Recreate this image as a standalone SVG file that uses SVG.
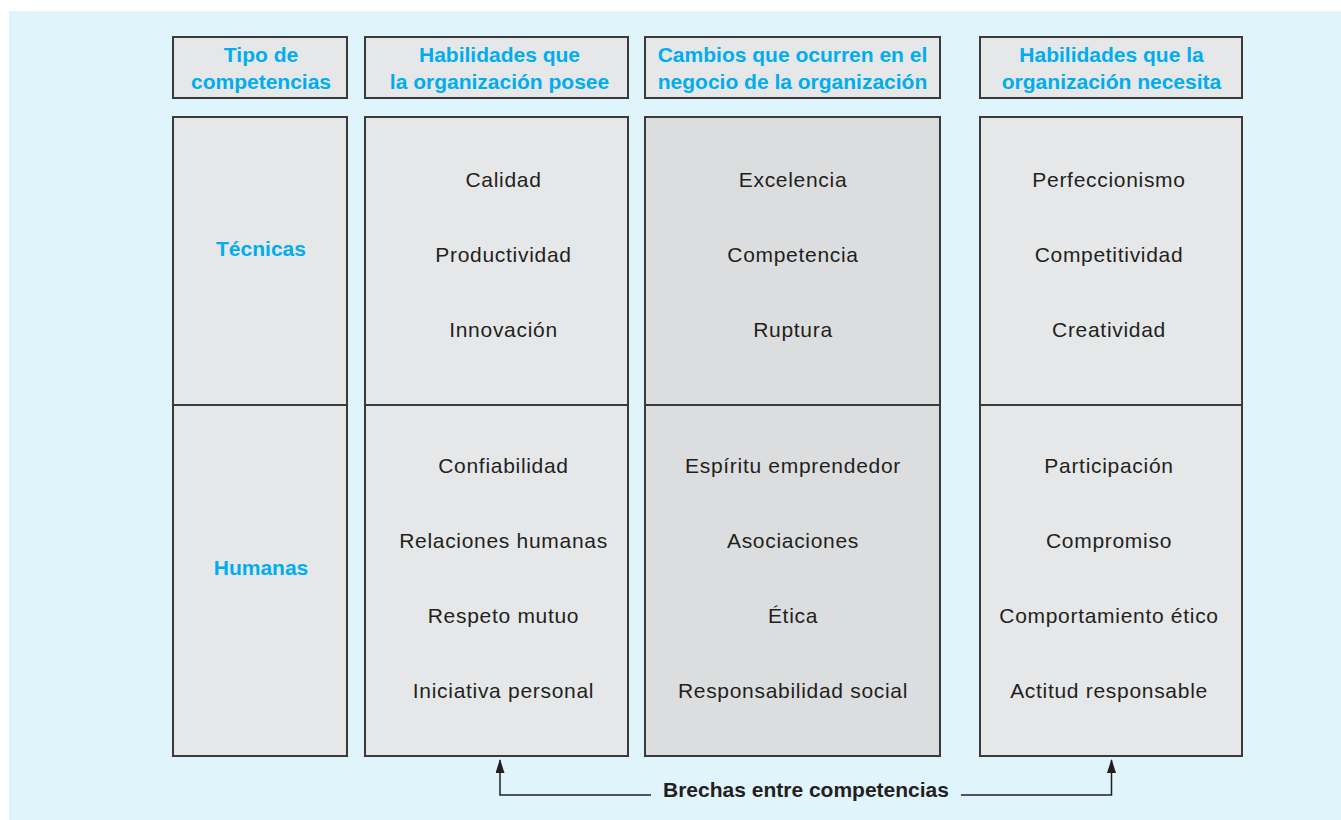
<svg xmlns="http://www.w3.org/2000/svg" width="1341" height="820" viewBox="0 0 1341 820">
<defs>
<style>
.box{fill:#E6E7E8;stroke:#3a3a3a;stroke-width:2}
.dark{fill:#DCDDDF}
.hd{font-family:"Liberation Sans",Arial,sans-serif;font-weight:bold;font-size:21px;fill:#00ADEE;text-anchor:middle}
.tx{font-family:"Liberation Sans",Arial,sans-serif;font-size:21px;letter-spacing:0.7px;fill:#231F20;text-anchor:middle}
.lbl{font-family:"Liberation Sans",Arial,sans-serif;font-weight:bold;font-size:21px;fill:#231F20;text-anchor:middle}
.ln{fill:none;stroke:#231F20;stroke-width:1.5}
</style>
<marker id="ah" viewBox="0 0 14 9" refX="13" refY="4.5" markerWidth="14" markerHeight="9" markerUnits="userSpaceOnUse" orient="auto">
<path d="M0,0 L14,4.5 L0,9 Z" fill="#231F20"/>
</marker>
</defs>
<rect x="9" y="11" width="1332" height="809" fill="#E0F4FB"/>
<g id="h1"><rect class="box" x="173" y="37" width="174" height="61"/><text class="hd" x="261" y="62">Tipo de</text><text class="hd" x="261" y="89">competencias</text></g>
<g id="h2"><rect class="box" x="365" y="37" width="263" height="61"/><text class="hd" x="499.5" y="62">Habilidades que</text><text class="hd" x="499.5" y="89">la organización posee</text></g>
<g id="h3"><rect class="box" x="645" y="37" width="295" height="61"/><text class="hd" x="792.5" y="62">Cambios que ocurren en el</text><text class="hd" x="792.5" y="89">negocio de la organización</text></g>
<g id="h4"><rect class="box" x="980" y="37" width="262" height="61"/><text class="hd" x="1111.5" y="62">Habilidades que la</text><text class="hd" x="1111.5" y="89">organización necesita</text></g>

<g id="c1t"><rect class="box" x="173" y="117" width="174" height="288"/><text class="hd" x="261" y="256">Técnicas</text></g>
<g id="c1h"><rect class="box" x="173" y="405" width="174" height="351"/><text class="hd" x="261" y="575">Humanas</text></g>

<g id="c2t"><rect class="box" x="365" y="117" width="263" height="288"/>
<text class="tx" x="503.5" y="187">Calidad</text><text class="tx" x="503.5" y="262">Productividad</text><text class="tx" x="503.5" y="337">Innovación</text></g>
<g id="c2h"><rect class="box" x="365" y="405" width="263" height="351"/>
<text class="tx" x="503.5" y="473">Confiabilidad</text><text class="tx" x="503.5" y="548">Relaciones humanas</text><text class="tx" x="503.5" y="623">Respeto mutuo</text><text class="tx" x="503.5" y="698">Iniciativa personal</text></g>

<g id="c3t"><rect class="box dark" x="645" y="117" width="295" height="288"/>
<text class="tx" x="793" y="187">Excelencia</text><text class="tx" x="793" y="262">Competencia</text><text class="tx" x="793" y="337">Ruptura</text></g>
<g id="c3h"><rect class="box dark" x="645" y="405" width="295" height="351"/>
<text class="tx" x="793" y="473">Espíritu emprendedor</text><text class="tx" x="793" y="548">Asociaciones</text><text class="tx" x="793" y="623">Ética</text><text class="tx" x="793" y="698">Responsabilidad social</text></g>

<g id="c4t"><rect class="box" x="980" y="117" width="262" height="288"/>
<text class="tx" x="1109" y="187">Perfeccionismo</text><text class="tx" x="1109" y="262">Competitividad</text><text class="tx" x="1109" y="337">Creatividad</text></g>
<g id="c4h"><rect class="box" x="980" y="405" width="262" height="351"/>
<text class="tx" x="1109" y="473">Participación</text><text class="tx" x="1109" y="548">Compromiso</text><text class="tx" x="1109" y="623">Comportamiento ético</text><text class="tx" x="1109" y="698">Actitud responsable</text></g>

<g id="connectors">
<path class="ln" d="M651,795 H500 V760" marker-end="url(#ah)"/>
<path class="ln" d="M961,795 H1111.5 V760" marker-end="url(#ah)"/>
</g>
<g id="gap-label"><text class="lbl" x="806" y="797">Brechas entre competencias</text></g>
</svg>
